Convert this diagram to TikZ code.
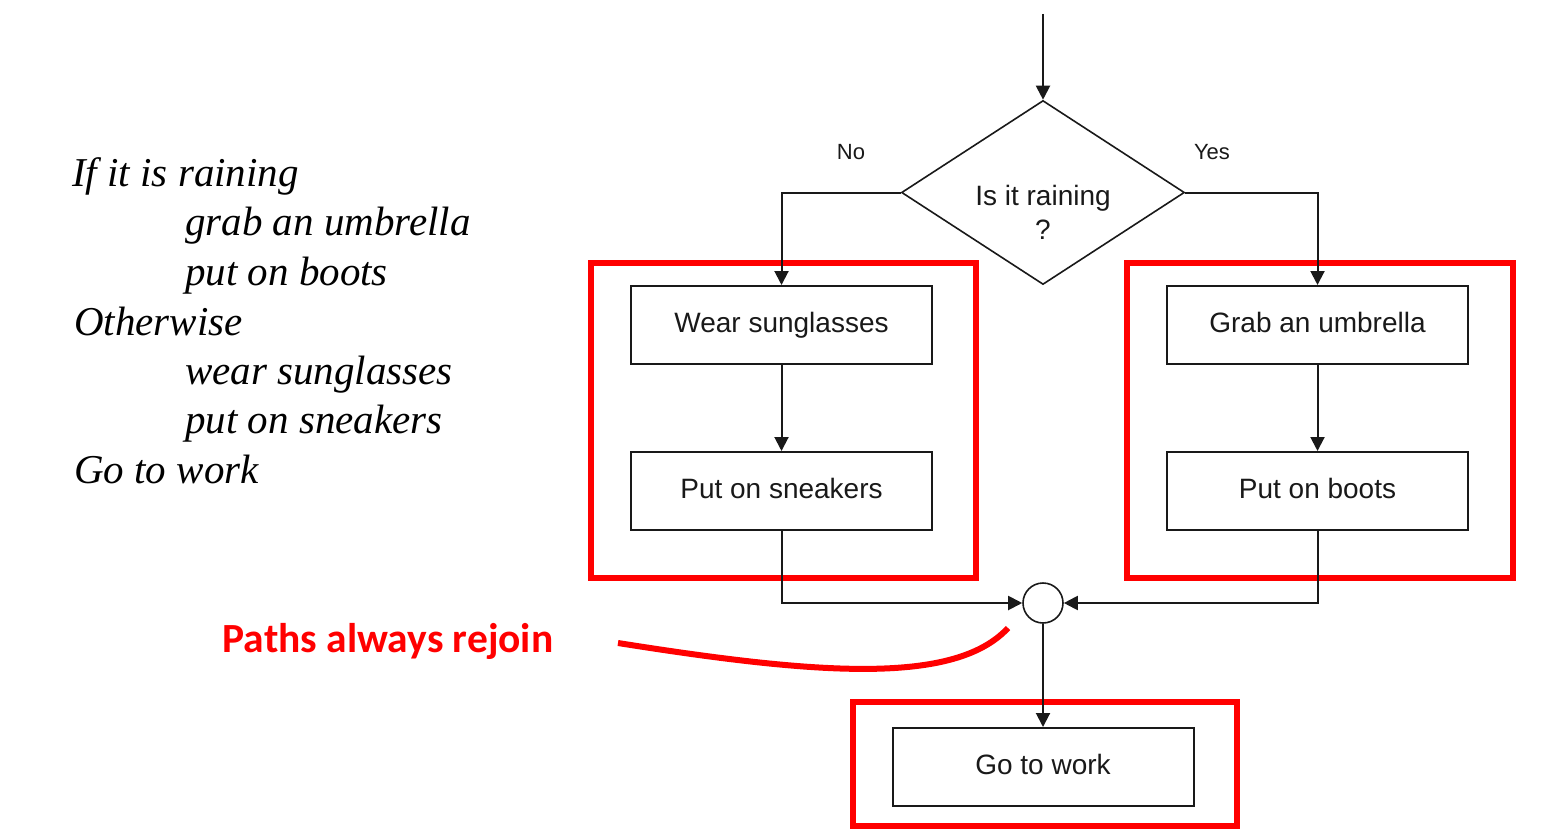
\documentclass[tikz,border=0pt]{standalone}
\usepackage{fontspec}
\setmainfont{Liberation Serif}
\newfontfamily\arialf{Liberation Sans}
\newfontfamily\calif{Carlito}
\usetikzlibrary{arrows.meta,shapes.geometric}
\definecolor{mred}{RGB}{255,0,0}
\definecolor{ink}{RGB}{25,25,25}
\tikzset{
  flowbox/.style={draw=ink, line width=2pt, minimum width=301pt, minimum height=78pt, inner sep=0pt,
    text height=20pt, text depth=6pt, text=ink,
    font=\arialf\fontsize{28}{34}\selectfont},
  redbox/.style={draw=mred, line width=6pt, inner sep=0pt},
  flow/.style={draw=ink, line width=2pt, -{Triangle[width=14pt,length=14pt]}},
  code/.style={anchor=base west, inner sep=0pt, font=\itshape\fontsize{41}{49}\selectfont},
  yn/.style={inner sep=0pt, text=ink, font=\arialf\fontsize{22}{26}\selectfont},
}
\begin{document}
\begin{tikzpicture}[x=1pt,y=-1pt]
\useasboundingbox (0,0) rectangle (1565,832);
% pseudo-code
\node[code] (l1) at (72,186) {If it is raining};
\node[code] (l2) at (185,235) {grab an umbrella};
\node[code] (l3) at (185,285) {put on boots};
\node[code] (l4) at (74,335) {Otherwise};
\node[code] (l5) at (185,384) {wear sunglasses};
\node[code] (l6) at (185,433) {put on sneakers};
\node[code] (l7) at (74,483) {Go to work};
% red highlight boxes
\node[redbox, minimum width=385pt, minimum height=315pt] (rl) at (783.5,420.5) {};
\node[redbox, minimum width=386pt, minimum height=315pt] (rr) at (1320,420.5) {};
\node[redbox, minimum width=384pt, minimum height=124pt] (rb) at (1045,764) {};
% flowchart
\coordinate (start) at (1043,14);
\node[diamond, draw=ink, line width=1.6pt, minimum width=283pt, minimum height=184pt, inner sep=0pt, aspect=1.54] (dec) at (1043,192.5) {};
\node[inner sep=0pt, align=center, text=ink, font=\arialf\fontsize{28}{34}\selectfont] (dect) at (1043,212) {Is it raining\\?};
\node[yn] (no) at (851,152) {No};
\node[yn] (yes) at (1212,152) {Yes};
\node[flowbox] (ws) at (781.5,325) {Wear sunglasses};
\node[flowbox] (ps) at (781.5,491) {Put on sneakers};
\node[flowbox] (gu) at (1317.5,325) {Grab an umbrella};
\node[flowbox] (pb) at (1317.5,491) {Put on boots};
\node[circle, draw=ink, line width=1.6pt, minimum size=40pt, inner sep=0pt] (join) at (1043,603) {};
\node[flowbox] (gw) at (1043,767) {Go to work};
\draw[flow] (start) -- (dec.north);
\draw[flow] (dec.west) -| (ws.north);
\draw[flow] (dec.east) -| (gu.north);
\draw[flow] (ws) -- (ps);
\draw[flow] (gu) -- (pb);
\draw[flow] (ps.south) |- (join.west);
\draw[flow] (pb.south) |- (join.east);
\draw[flow] (join.south) -- (gw.north);
% annotation
\node[inner sep=0pt, text=mred, font=\calif\bfseries\fontsize{41.5}{48}\selectfont] (rejoin) at (388,641) {Paths always rejoin};
\coordinate (cs) at (618,643);
\coordinate (ce) at (1008,628);
\draw[mred, line width=6pt] (cs) .. controls (820,675) and (955,685) .. (ce);
\end{tikzpicture}
\end{document}
